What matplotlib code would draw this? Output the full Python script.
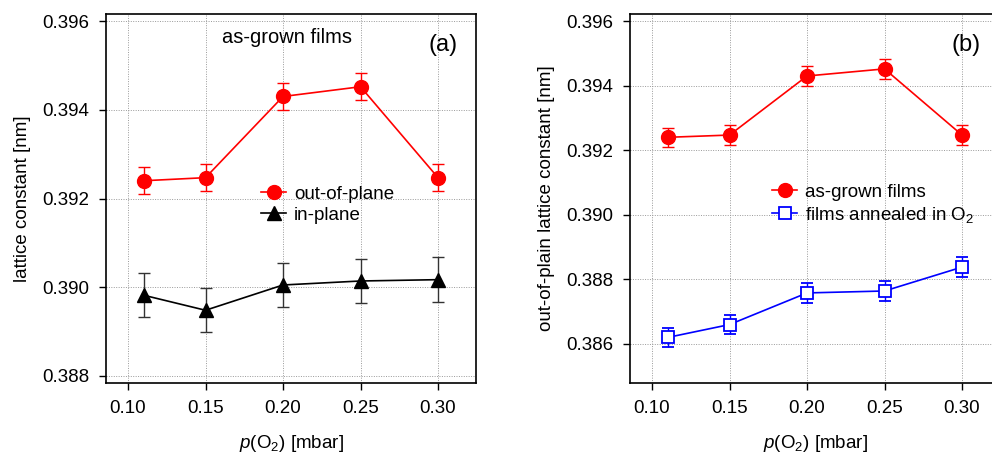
import numpy as np
import matplotlib
matplotlib.use('Agg')
import matplotlib.pyplot as plt
from matplotlib.lines import Line2D

plt.rc('font', family=['Liberation Sans', 'DejaVu Sans'], size=13.5)
plt.rc('mathtext', fontset='custom', rm='Liberation Sans',
       it='Liberation Sans:italic')

# Oxygen partial pressure during growth [mbar]
p_o2 = [0.11, 0.15, 0.20, 0.25, 0.30]

# As-grown films
c_out = [0.39240, 0.39247, 0.39430, 0.39452, 0.39247]
c_out_err = [0.0003, 0.0003, 0.0003, 0.0003, 0.0003]
a_in = [0.38982, 0.38948, 0.39005, 0.39014, 0.39017]
a_in_err = [0.0005, 0.0005, 0.0005, 0.0005, 0.0005]

# Films annealed in O2 (out-of-plane)
c_ann = [0.38620, 0.38660, 0.38758, 0.38764, 0.38838]
c_ann_err = [0.0003, 0.0003, 0.0003, 0.0003, 0.0003]

xticks = [0.10, 0.15, 0.20, 0.25, 0.30]

W, H = 992, 461
fig = plt.figure(figsize=(W / 100, H / 100), dpi=100)
ax_a = fig.add_axes([106 / W, 1 - 383 / H, 370 / W, 369 / H])
ax_b = fig.add_axes([630 / W, 1 - 383 / H, 370 / W, 369 / H])

RED = '#ff0000'
BLUE = '#0000ff'
eb_kw = dict(lw=1.2, elinewidth=1, capsize=4, capthick=1)
leg_kw = dict(loc='upper left', frameon=False, handlelength=1.3,
              handletextpad=0.45, labelspacing=0.2, borderpad=0.0,
              borderaxespad=0.0, fontsize=13.5)


def style(ax):
    ax.set_xlim(0.0858, 0.3245)
    ax.set_xticks(xticks)
    ax.set_xticklabels(['%.2f' % x for x in xticks])
    ax.grid(True, color='#999999', linestyle=(0, (1, 1.5)), linewidth=0.7)
    ax.tick_params(direction='out', length=5, width=1, pad=7)
    for s in ax.spines.values():
        s.set_linewidth(1.2)
    ax.set_xlabel(r'$p$(O$_2$) [mbar]', labelpad=12)


# (a) out-of-plane and in-plane
ax_a.errorbar(p_o2, c_out, yerr=c_out_err, color=RED, marker='o', ms=10,
              **eb_kw)
ax_a.errorbar(p_o2, a_in, yerr=a_in_err, color='black', marker='^', ms=10,
              ecolor='#333333', **eb_kw)
style(ax_a)
ax_a.set_ylim(0.38784, 0.39616)
ax_a.set_yticks([0.388, 0.390, 0.392, 0.394, 0.396])
ax_a.set_yticklabels(['0.388', '0.390', '0.392', '0.394', '0.396'])
ax_a.set_ylabel('lattice constant [nm]', labelpad=8)
ax_a.text(0.489, 0.935, 'as-grown films', transform=ax_a.transAxes,
          ha='center', va='center', fontsize=14.5)
ax_a.text(0.911, 0.916, '(a)', transform=ax_a.transAxes,
          ha='center', va='center', fontsize=17)
h_a = [Line2D([], [], color=RED, marker='o', ms=10, lw=1.2),
       Line2D([], [], color='black', marker='^', ms=10, lw=1.2)]
ax_a.legend(h_a, ['out-of-plane', 'in-plane'],
            bbox_to_anchor=(0.42, 0.535), **leg_kw)

# (b) as-grown vs annealed
ax_b.errorbar(p_o2, c_out, yerr=c_out_err, color=RED, marker='o', ms=10,
              **eb_kw)
ax_b.errorbar(p_o2, c_ann, yerr=c_ann_err, color=BLUE, marker='s', ms=8,
              mfc='white', mew=1.3, **eb_kw)
style(ax_b)
ax_b.set_ylim(0.38479, 0.39622)
yt = [0.386, 0.388, 0.390, 0.392, 0.394, 0.396]
ax_b.set_yticks(yt)
ax_b.set_yticklabels(['%.3f' % y for y in yt])
ax_b.set_ylabel('out-of-plain lattice constant [nm]', labelpad=8)
ax_b.text(0.908, 0.916, '(b)', transform=ax_b.transAxes,
          ha='center', va='center', fontsize=17)
h_b = [Line2D([], [], color=RED, marker='o', ms=10, lw=1.2),
       Line2D([], [], color=BLUE, marker='s', ms=8, mfc='white', mew=1.3,
              lw=1.2)]
ax_b.legend(h_b, ['as-grown films', r'films annealed in O$_2$'],
            bbox_to_anchor=(0.385, 0.54), **leg_kw)

fig.savefig('out.png', dpi=100)
